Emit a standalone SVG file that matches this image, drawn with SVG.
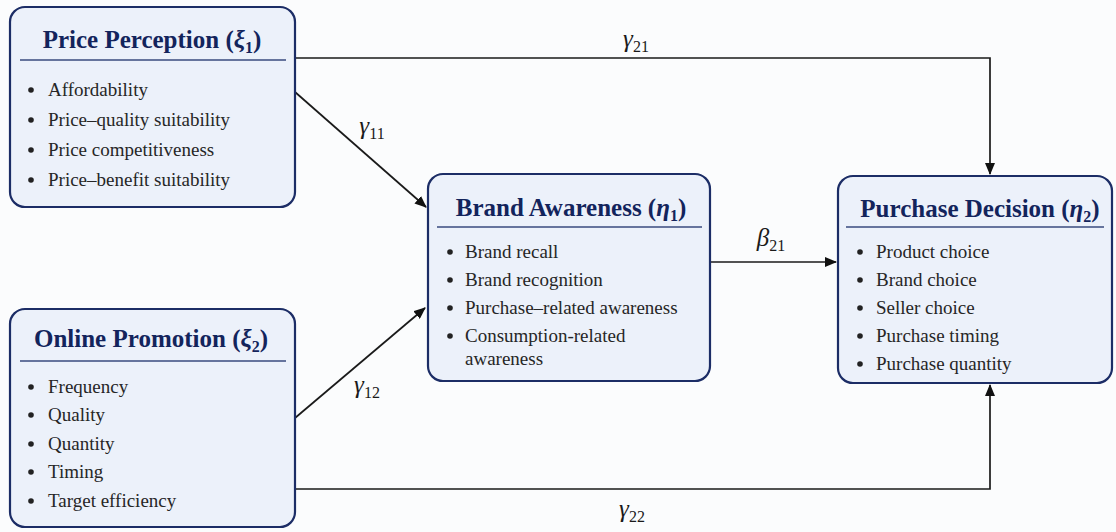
<svg xmlns="http://www.w3.org/2000/svg" width="1116" height="532" viewBox="0 0 1116 532">
<defs>
<marker id="ah" viewBox="0 0 12 10" refX="11" refY="5" markerWidth="12" markerHeight="10" markerUnits="userSpaceOnUse" orient="auto">
<path d="M0,0 L12,5 L0,10 z" fill="#111"/>
</marker>
</defs>
<style>
.box{fill:#ecf1fa;stroke:#1c2d66;stroke-width:2.2}
.div{stroke:#3a4a7e;stroke-width:1.6}
text{font-family:'Liberation Serif','Times New Roman','DejaVu Serif',serif}
.title{font-weight:bold;font-size:25px;fill:#13245c;text-anchor:middle}
.item{font-size:19px;fill:#262626}
.bul{fill:#222}
.conn{stroke:#1a1a1a;stroke-width:1.7;fill:none}
.lbl{font-size:25px;fill:#1a1a1a;text-anchor:middle}
.sub{font-size:16px;font-style:normal}
</style>
<rect width="1116" height="532" fill="#fbfcfd"/>
<g id="connectors">
<path class="conn" d="M295,58 H990 V174" marker-end="url(#ah)"/>
<path class="conn" d="M295,92 L426,207" marker-end="url(#ah)"/>
<path class="conn" d="M295,418 L425,308" marker-end="url(#ah)"/>
<path class="conn" d="M295,489 H990 V385" marker-end="url(#ah)"/>
<path class="conn" d="M710,262 H836" marker-end="url(#ah)"/>
<text class="lbl" x="636" y="47"><tspan font-style="italic">γ</tspan><tspan class="sub" dy="5">21</tspan></text>
<text class="lbl" x="372" y="134"><tspan font-style="italic">γ</tspan><tspan class="sub" dy="5">11</tspan></text>
<text class="lbl" x="367" y="393"><tspan font-style="italic">γ</tspan><tspan class="sub" dy="5">12</tspan></text>
<text class="lbl" x="632" y="517"><tspan font-style="italic">γ</tspan><tspan class="sub" dy="5">22</tspan></text>
<text class="lbl" x="771" y="246"><tspan font-style="italic">β</tspan><tspan class="sub" dy="5">21</tspan></text>
</g>
<g id="price">
<rect class="box" x="10" y="7" width="285" height="200" rx="15"/>
<text class="title" x="152" y="48">Price Perception (<tspan font-style="italic">ξ</tspan><tspan font-size="16" dy="5">1</tspan><tspan dy="-5">)</tspan></text>
<line class="div" x1="20" y1="60" x2="286" y2="60"/>
<circle class="bul" cx="31" cy="90" r="2.8"/><text class="item" x="48" y="96">Affordability</text>
<circle class="bul" cx="31" cy="120" r="2.8"/><text class="item" x="48" y="126">Price–quality suitability</text>
<circle class="bul" cx="31" cy="150" r="2.8"/><text class="item" x="48" y="156">Price competitiveness</text>
<circle class="bul" cx="31" cy="180" r="2.8"/><text class="item" x="48" y="186">Price–benefit suitability</text>
</g>
<g id="promotion">
<rect class="box" x="10" y="309" width="285" height="218" rx="15"/>
<text class="title" x="151" y="347">Online Promotion (<tspan font-style="italic">ξ</tspan><tspan font-size="16" dy="5">2</tspan><tspan dy="-5">)</tspan></text>
<line class="div" x1="20" y1="361" x2="286" y2="361"/>
<circle class="bul" cx="31" cy="387" r="2.8"/><text class="item" x="48" y="393">Frequency</text>
<circle class="bul" cx="31" cy="415" r="2.8"/><text class="item" x="48" y="421">Quality</text>
<circle class="bul" cx="31" cy="444" r="2.8"/><text class="item" x="48" y="450">Quantity</text>
<circle class="bul" cx="31" cy="472" r="2.8"/><text class="item" x="48" y="478">Timing</text>
<circle class="bul" cx="31" cy="501" r="2.8"/><text class="item" x="48" y="507">Target efficiency</text>
</g>
<g id="brand">
<rect class="box" x="428" y="174" width="282" height="207" rx="15"/>
<text class="title" x="571" y="216">Brand Awareness (<tspan font-style="italic">η</tspan><tspan font-size="16" dy="5">1</tspan><tspan dy="-5">)</tspan></text>
<line class="div" x1="437" y1="227" x2="702" y2="227"/>
<circle class="bul" cx="450" cy="252" r="2.8"/><text class="item" x="465" y="258">Brand recall</text>
<circle class="bul" cx="450" cy="280" r="2.8"/><text class="item" x="465" y="286">Brand recognition</text>
<circle class="bul" cx="450" cy="308" r="2.8"/><text class="item" x="465" y="314">Purchase–related awareness</text>
<circle class="bul" cx="450" cy="336" r="2.8"/><text class="item" x="465" y="342">Consumption-related</text>
<text class="item" x="465" y="365">awareness</text>
</g>
<g id="decision">
<rect class="box" x="838" y="176" width="274" height="207" rx="15"/>
<text class="title" x="980" y="217">Purchase Decision (<tspan font-style="italic">η</tspan><tspan font-size="16" dy="5">2</tspan><tspan dy="-5">)</tspan></text>
<line class="div" x1="846" y1="227" x2="1104" y2="227"/>
<circle class="bul" cx="860" cy="252" r="2.8"/><text class="item" x="876" y="258">Product choice</text>
<circle class="bul" cx="860" cy="280" r="2.8"/><text class="item" x="876" y="286">Brand choice</text>
<circle class="bul" cx="860" cy="308" r="2.8"/><text class="item" x="876" y="314">Seller choice</text>
<circle class="bul" cx="860" cy="336" r="2.8"/><text class="item" x="876" y="342">Purchase timing</text>
<circle class="bul" cx="860" cy="364" r="2.8"/><text class="item" x="876" y="370">Purchase quantity</text>
</g>
</svg>
